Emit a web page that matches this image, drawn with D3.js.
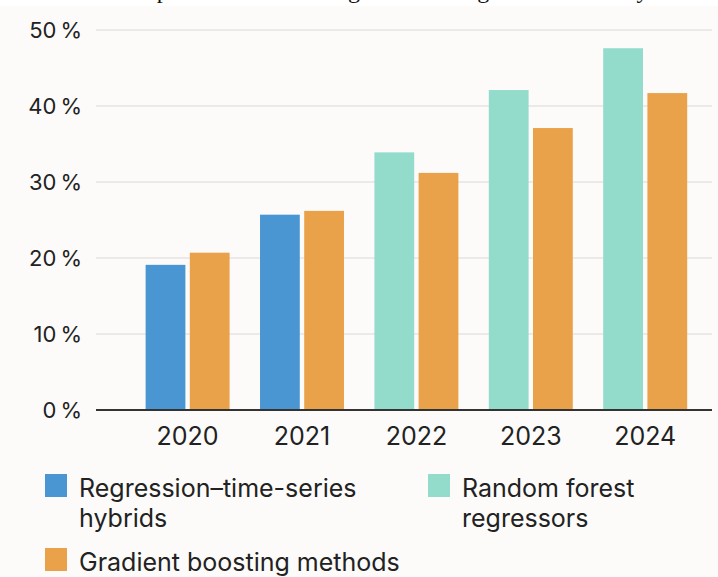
<!DOCTYPE html>
<html lang="en">
<head>
<meta charset="utf-8">
<title>Model accuracy by year</title>
<script src="https://d3js.org/d3.v7.min.js"></script>
<style>
    body {
        margin: 0;
        background: #ffffff;
        font-family: "Inter", "Roboto", sans-serif;
    }
    #chart svg {
        display: block;
    }
</style>
</head>
<body>
<div id="chart"></div>
<script>

// data
var years = ["2020", "2021", "2022", "2023", "2024"];
var firstModel = ["Regression\u2013time-series hybrids", "Regression\u2013time-series hybrids",
                  "Random forest regressors", "Random forest regressors", "Random forest regressors"];
var firstValues = [19.1, 25.7, 33.9, 42.1, 47.6];
var boostValues = [20.7, 26.2, 31.2, 37.1, 41.7];
var yTicks = [0, 10, 20, 30, 40, 50];
var legendItems = [
    { name: ["Regression\u2013time-series", "hybrids"], key: "Regression\u2013time-series hybrids" },
    { name: ["Random forest", "regressors"], key: "Random forest regressors" },
    { name: ["Gradient boosting methods"], key: "Gradient boosting methods" }
];

var colors = {
    "Regression\u2013time-series hybrids": "#4a96d3",
    "Random forest regressors": "#93dccc",
    "Gradient boosting methods": "#e9a24a"
};

var width = 718, height = 577;

var svg = d3.select("#chart").append("svg")
    .attr("width", width)
    .attr("height", height);

// panel background (top strip stays white)
svg.append("rect")
    .attr("x", 0).attr("y", 6)
    .attr("width", width).attr("height", height - 6)
    .attr("fill", "#fcfbf9");

// cut-off caption line above the chart, only the descenders show
svg.append("text")
    .attr("x", 30).attr("y", -2)
    .attr("font-family", "'Liberation Serif', serif")
    .attr("font-size", 24)
    .attr("fill", "#111")
    .text("the model improves its forecast against the range of all volatility.");

var y = d3.scaleLinear().domain([0, 50]).range([410, 30]);

var x = d3.scaleBand().domain(years)
    .range([130.4, 702.4])
    .paddingInner(0.266)
    .paddingOuter(0.133);

var xs = d3.scaleBand().domain([0, 1])
    .range([0, x.bandwidth()])
    .paddingInner(0.1);

// gridlines
svg.append("g")
    .selectAll("line")
    .data(yTicks.filter(function(d) { return d > 0; }))
    .enter().append("line")
    .attr("x1", 96).attr("x2", 712)
    .attr("y1", function(d) { return y(d); })
    .attr("y2", function(d) { return y(d); })
    .attr("stroke", "#e7e5e2")
    .attr("stroke-width", 1.5);

// y labels
svg.append("g")
    .selectAll("text")
    .data(yTicks)
    .enter().append("text")
    .attr("x", 82)
    .attr("y", function(d) { return y(d); })
    .attr("dy", "0.36em")
    .attr("text-anchor", "end")
    .attr("font-size", 22)
    .attr("fill", "#222")
    .text(function(d) { return d + "\u2009%"; });

// bars
var groups = svg.append("g")
    .selectAll("g")
    .data(years)
    .enter().append("g")
    .attr("transform", function(d) { return "translate(" + x(d) + ",0)"; });

groups.append("rect")
    .attr("x", xs(0))
    .attr("width", xs.bandwidth())
    .attr("y", function(d, i) { return y(firstValues[i]); })
    .attr("height", function(d, i) { return y(0) - y(firstValues[i]); })
    .attr("fill", function(d, i) { return colors[firstModel[i]]; });

groups.append("rect")
    .attr("x", xs(1))
    .attr("width", xs.bandwidth())
    .attr("y", function(d, i) { return y(boostValues[i]); })
    .attr("height", function(d, i) { return y(0) - y(boostValues[i]); })
    .attr("fill", colors["Gradient boosting methods"]);

// baseline
svg.append("line")
    .attr("x1", 96).attr("x2", 712)
    .attr("y1", y(0)).attr("y2", y(0))
    .attr("stroke", "#333")
    .attr("stroke-width", 2);

// x labels
svg.append("g")
    .selectAll("text")
    .data(years)
    .enter().append("text")
    .attr("x", function(d) { return x(d) + x.bandwidth() / 2; })
    .attr("y", 445)
    .attr("text-anchor", "middle")
    .attr("font-size", 25)
    .attr("fill", "#222")
    .text(function(d) { return d; });

// legend
var legendPos = [[45, 474], [428, 474], [45, 548]];

var legend = svg.append("g")
    .selectAll("g")
    .data(legendItems)
    .enter().append("g")
    .attr("transform", function(d, i) { return "translate(" + legendPos[i][0] + "," + legendPos[i][1] + ")"; });

legend.append("rect")
    .attr("width", 22).attr("height", 23)
    .attr("fill", function(d) { return colors[d.key]; });

legend.append("text")
    .attr("x", 34)
    .attr("y", 23)
    .attr("font-size", 25)
    .attr("fill", "#222")
    .selectAll("tspan")
    .data(function(d) { return d.name; })
    .enter().append("tspan")
    .attr("x", 34)
    .attr("dy", function(d, i) { return i === 0 ? 0 : 30; })
    .text(function(d) { return d; });

</script>
</body>
</html>
